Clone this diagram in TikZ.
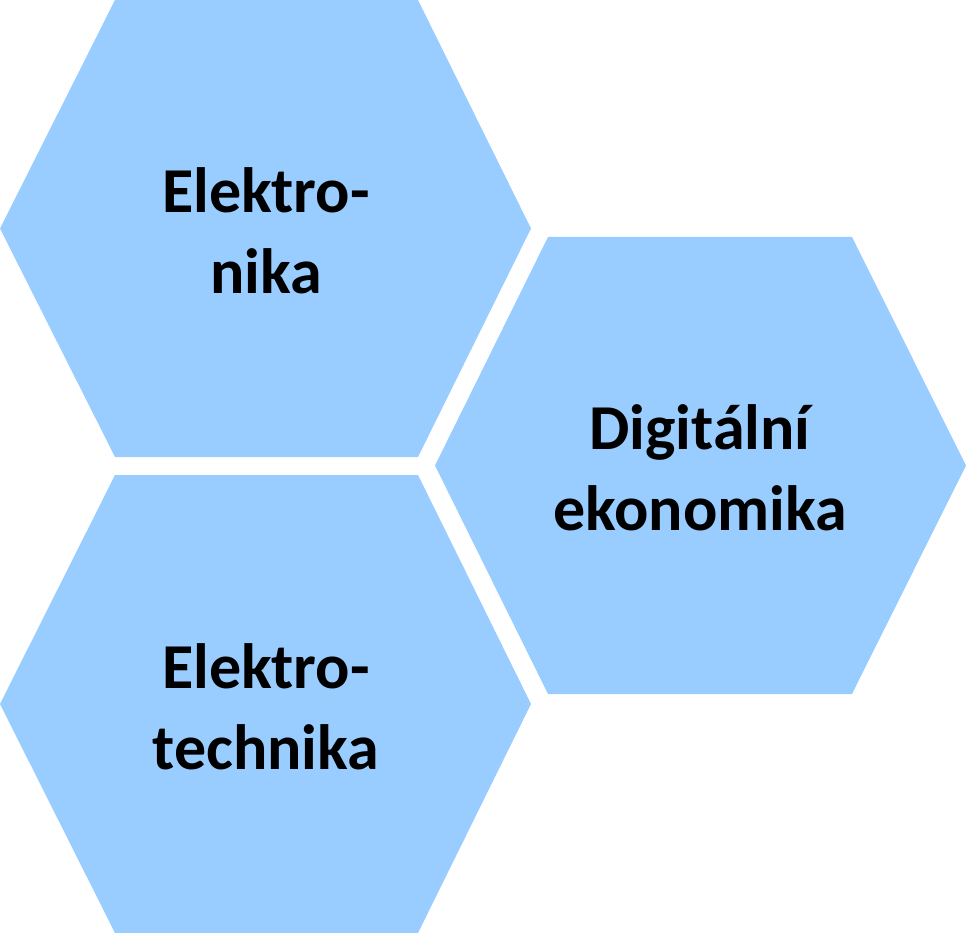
\documentclass[tikz,border=0pt]{standalone}
\usepackage{fontspec}
\setmainfont{Carlito}
\definecolor{hexblue}{HTML}{99CCFF}
\begin{document}
\begin{tikzpicture}[x=1pt,y=-1pt,
  hexfill/.style={fill=hexblue,draw=none},
  hexlabel/.style={align=center,font=\fontsize{64}{81}\selectfont\bfseries,inner sep=0pt}]
\useasboundingbox (0,0) rectangle (967,933);
% hexagon 1
\fill[hexfill] (115,0) -- (418,0) -- (531,228.5) -- (418,457) -- (115,457) -- (0,228.5) -- cycle;
% hexagon 2
\fill[hexfill] (115,475) -- (418,475) -- (531,704) -- (418,933) -- (115,933) -- (0,704) -- cycle;
% hexagon 3
\fill[hexfill] (548,237) -- (852,237) -- (966,465.5) -- (852,694) -- (548,694) -- (435,465.5) -- cycle;
\node[hexlabel] (a) at (266,231) {Elektro-\\nika};
\node[hexlabel] (b) at (266,707) {Elektro-\\technika};
\node[hexlabel] (c) at (700,468) {Digitální\\ekonomika};
\end{tikzpicture}
\end{document}
